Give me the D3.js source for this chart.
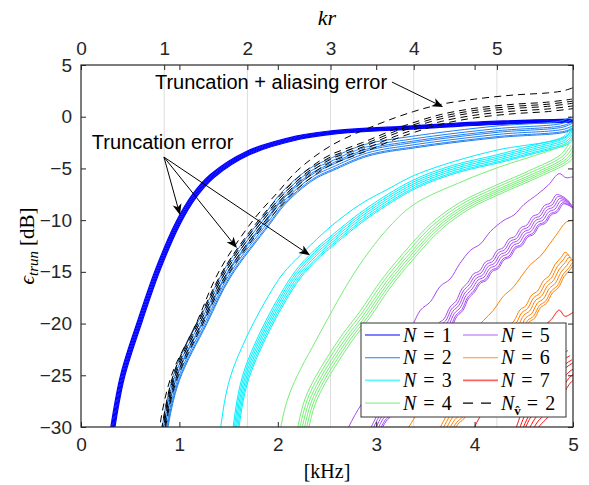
<!DOCTYPE html>
<html><head><meta charset="utf-8">
<script src="https://cdn.jsdelivr.net/npm/d3@7"></script>
<style>body{margin:0;background:#fff} svg{display:block}</style>
</head><body><svg id="c" width="589" height="485"></svg>
<script>
// ---------------- data (frequency in kHz, error in dB) ----------------
const kHzTicks = [0, 1, 2, 3, 4, 5];
const krTicks = [0, 1, 2, 3, 4, 5];
const dbTicks = [-30, -25, -20, -15, -10, -5, 0, 5];
const krPerKHz = 1.183;

const n1Center = [[0.28,-33],[0.32,-30],[0.42,-25],[0.6,-19.6],[0.78,-14.7],[0.98,-10.3],[1.15,-7.6],[1.33,-5.7],[1.69,-3.5],[2.2,-2.0],[2.54,-1.5],[3.38,-1.0],[4.24,-0.55],[5,-0.35]];
const n1Spread = [[-0.015,0.12],[-0.008,0.06],[0,0],[0.008,-0.06],[0.015,-0.12],[0.022,-0.18]];

const n2Center = [[0.82,-33],[0.855,-30],[0.98,-25],[1.26,-19.5],[1.5,-15],[1.89,-10],[2.05,-8.0],[2.23,-6.4],[2.38,-5.4],[2.54,-4.7],[2.9,-3.3],[3.38,-2.5],[4.24,-1.5],[4.9,-1.0],[5,-0.6]];
const n2Spread = [[-0.02,0.6],[-0.01,0.35],[0,0.15],[0,0],[0.01,-0.2],[0.015,-0.4],[0.02,-0.5]];

const n3Center = [[1.53,-33],[1.57,-30],[1.62,-27],[1.68,-24.8],[1.78,-22.4],[1.9,-20],[2.05,-17.4],[2.2,-15.2],[2.38,-13.3],[2.54,-12.0],[2.9,-9.3],[3.38,-6.5],[3.8,-5.0],[4.24,-4.0],[4.6,-3.1],[4.91,-2.3],[4.96,-1.9],[5,-1.2]];
const n3Outlier = [[1.38,-33],[1.42,-30],[1.47,-27],[1.53,-24.8],[1.63,-22.4],[1.75,-20],[1.9,-17.4],[2.05,-15.2],[2.25,-13.2],[2.54,-10.6],[2.85,-8.4],[3.12,-7.0],[3.38,-5.7],[3.8,-4.3],[4.24,-3.2],[4.91,-2.0],[5,-1.2]];
const n3Spread = [[-0.02,0.3],[-0.01,0.15],[0,0],[0.01,-0.15],[0.02,-0.3],[0.03,-0.4]];

const n4Center = [[2.2,-33],[2.25,-30],[2.32,-27.5],[2.42,-25.5],[2.54,-23.6],[2.7,-21.3],[2.87,-19.2],[3.1,-16.0],[3.38,-12.8],[3.6,-10.6],[3.89,-8.6],[4.24,-7.0],[4.6,-5.5],[4.91,-4.0],[5,-2.9]];
const n4Outlier = [[1.98,-33],[2.03,-30],[2.1,-27.3],[2.2,-25],[2.35,-22.3],[2.51,-19.5],[2.7,-16.3],[2.87,-13.8],[3.1,-11],[3.38,-8.5],[3.89,-6.2],[4.24,-4.9],[4.91,-2.7],[5,-2.0]];
const n4Spread = [[-0.04,0.3],[-0.02,0.15],[0,0],[0.02,-0.1],[0.04,-0.2],[0.06,-0.3]];

const n5Center = [[2.95,-31],[3.0,-30],[3.06,-28.95],[3.12,-28.35],[3.18,-27.15],[3.24,-26.55],[3.3,-25.35],[3.36,-24.75],[3.42,-23.55],[3.48,-23.05],[3.54,-21.95],[3.6,-21.5],[3.66,-20.4],[3.72,-19.95],[3.78,-18.8],[3.84,-18.25],[3.9,-17.05],[3.96,-16.45],[4.02,-15.59],[4.08,-15.32],[4.14,-14.45],[4.2,-14.19],[4.26,-13.33],[4.32,-13.07],[4.38,-12.22],[4.44,-11.98],[4.5,-11.13],[4.56,-10.88],[4.62,-10.03],[4.68,-9.8],[4.74,-8.98],[4.8,-8.75],[4.86,-7.93],[4.9,-8.0],[4.94,-8.2],[5,-8.7]];
const n5Outlier = [[2.65,-31.5],[2.72,-30],[2.85,-27.8],[2.95,-26.6],[3.05,-24.8],[3.15,-23.6],[3.25,-21.7],[3.35,-20.5],[3.45,-18.7],[3.55,-17.9],[3.65,-16.4],[3.75,-15.7],[3.85,-14.2],[3.96,-12.9],[4.06,-12.3],[4.16,-11.1],[4.3,-10],[4.4,-9.5],[4.5,-8.5],[4.64,-7.5],[4.75,-6.6],[4.86,-5.5],[4.93,-5.9],[5,-5.8]];
const n5Spread = [[-0.03,0.4],[-0.015,0.2],[0,0],[0.015,-0.2],[0.03,-0.4],[0.04,-0.5]];

const n6Center = [[3.62,-32],[3.72,-30],[3.78,-29.03],[3.84,-28.51],[3.9,-27.38],[3.96,-26.85],[4.02,-25.75],[4.08,-25.2],[4.14,-24.05],[4.2,-23.55],[4.26,-22.45],[4.32,-21.9],[4.38,-20.75],[4.44,-20.25],[4.5,-19.19],[4.56,-18.78],[4.62,-17.75],[4.68,-17.35],[4.74,-16.35],[4.8,-15.85],[4.86,-14.75],[4.92,-14.1],[4.96,-13.6],[5,-13.9]];
const n6Outlier = [[3.25,-31],[3.33,-30],[3.43,-28.52],[3.53,-27.42],[3.63,-25.78],[3.73,-24.72],[3.83,-23.08],[3.93,-22.02],[4.03,-20.38],[4.09,-19.7],[4.19,-18.72],[4.29,-17.38],[4.39,-16.52],[4.47,-15.5],[4.57,-14.28],[4.67,-13.47],[4.74,-12.6],[4.84,-11.3],[4.93,-10.2],[5,-10]];
const n6Spread = [[-0.04,0.5],[-0.02,0.25],[0,0],[0.02,-0.25],[0.04,-0.5],[0.05,-0.7]];

const n7Center = [[4.45,-32],[4.52,-30],[4.6,-28.6],[4.68,-27.8],[4.75,-26.8],[4.82,-25.9],[4.9,-24.6],[4.95,-24.1],[5,-23.8]];
const n7Outlier = [[3.95,-32],[4.0,-30],[4.1,-28.4],[4.2,-27.3],[4.3,-25.6],[4.4,-24.5],[4.5,-22.9],[4.6,-21.8],[4.7,-20.3],[4.78,-19.6],[4.86,-18.7],[4.92,-19.3],[5,-18.9]];
const n7Spread = [[-0.05,1.2],[-0.03,0.7],[-0.01,0.3],[0,0],[0.02,-0.5],[0.04,-0.9],[0.06,-1.3]];

const dashCenter = [[0.8,-33],[0.84,-30],[0.96,-25],[1.23,-19.5],[1.47,-15],[1.85,-10],[2.2,-6.4],[2.4,-4.9],[2.54,-4.1],[2.7,-3.5],[2.87,-2.9],[3.0,-2.4],[3.2,-1.6],[3.38,-1.0],[3.66,-0.2],[4.0,0.4],[4.4,0.8],[4.74,1.0],[5,1.3]];
const dashOutlier = [[0.78,-33],[0.8,-30],[0.92,-25],[1.17,-20],[1.4,-15],[1.75,-10],[2.0,-7.3],[2.2,-5.2],[2.54,-2.8],[3.0,-0.8],[3.38,0.5],[3.66,1.2],[4.0,1.7],[4.4,2.1],[4.74,2.3],[4.9,2.5],[5,2.8]];
const dashSpread = [[-0.01,0.4],[-0.005,0.2],[0,0],[0.005,-0.25],[0.01,-0.5]];

const seriesNames = ["1","2","3","4","5","6","7"];
const seriesColors = ["#0000ff","#2080f0","#00f0ff","#78ee78","#a64cf2","#ff8000","#ff1010"];
const legendColors = ["#0000ff","#2a7fe0","#5ff5ff","#8ef58e","#b060f5","#ff9030","#ff6060"];

// annotations in data coordinates [kHz, dB]
const annoTrunc = {text:"Truncation error", at:[0.11,-3.1], from:[0.843,-3.9], tips:[[1.006,-9.5],[1.585,-12.7],[2.327,-13.4]]};
const annoAlias = {text:"Truncation + aliasing error", at:[0.752,2.7], from:[3.16,3.35], tips:[[3.68,0.94]]};

// ---------------- drawing ----------------
const svg = d3.select("#c");
const L = 81, R = 573, T = 65, B = 427;
const x = d3.scaleLinear([0,5],[L,R]);
const xkr = d3.scaleLinear([0,5*krPerKHz],[L,R]);
const y = d3.scaleLinear([-30,5],[B,T]);
const axisColor = "#262626";
const sans = "'Liberation Sans', Arial, sans-serif";
const serif = "'Liberation Serif', 'Times New Roman', serif";

svg.append("rect").attr("width",589).attr("height",485).attr("fill","#fff");
svg.append("defs").append("clipPath").attr("id","clip")
  .append("rect").attr("x",L).attr("y",T).attr("width",R-L).attr("height",B-T);

// grid (kr)
svg.append("g").selectAll("line").data(krTicks.filter(d=>d>0)).join("line")
  .attr("x1",d=>xkr(d)).attr("x2",d=>xkr(d)).attr("y1",T).attr("y2",B)
  .attr("stroke","#dcdcdc").attr("stroke-width",1);

const line = d3.line().x(d=>x(d[0])).y(d=>y(d[1])).curve(d3.curveCatmullRom.alpha(0.5));
const plot = svg.append("g").attr("clip-path","url(#clip)");
function family(center, spread, outlier, color, dash, w){
  const members = spread.map(([df,db]) => center.map(([f,v]) => [f+df, v+db]));
  if (outlier) members.unshift(outlier);
  plot.append("g").selectAll("path").data(members).join("path")
    .attr("d", line).attr("fill","none").attr("stroke",color)
    .attr("stroke-width", w||1).attr("stroke-dasharray", dash||null);
}
family(n1Center, n1Spread, null, seriesColors[0], null, 1.2);
family(n2Center, n2Spread, null, seriesColors[1]);
family(n3Center, n3Spread, n3Outlier, seriesColors[2]);
family(n4Center, n4Spread, n4Outlier, seriesColors[3]);
family(n5Center, n5Spread, n5Outlier, seriesColors[4]);
family(n6Center, n6Spread, n6Outlier, seriesColors[5]);
family(n7Center, n7Spread, n7Outlier, seriesColors[6]);
family(dashCenter, dashSpread, dashOutlier, "#000", "7,5");

// axes
function styleAxis(g){
  g.select(".domain").remove();
  g.selectAll(".tick line").attr("stroke",axisColor);
  g.selectAll("text").attr("fill",axisColor).style("font-family",sans).style("font-size","19px");
}
svg.append("g").attr("transform",`translate(0,${B})`)
  .call(d3.axisBottom(x).tickValues(kHzTicks).tickSizeInner(-5).tickSizeOuter(0).tickPadding(11).tickFormat(d3.format("d")))
  .call(styleAxis);
svg.append("g").attr("transform",`translate(0,${T})`)
  .call(d3.axisTop(x).tickValues(kHzTicks).tickSizeInner(-5).tickSizeOuter(0).tickFormat(""))
  .call(styleAxis);
svg.append("g").attr("transform",`translate(0,${T})`)
  .call(d3.axisTop(xkr).tickValues(krTicks).tickSizeInner(-5).tickSizeOuter(0).tickPadding(10).tickFormat(d3.format("d")))
  .call(styleAxis);
svg.append("g").attr("transform",`translate(${L},0)`)
  .call(d3.axisLeft(y).tickValues(dbTicks).tickSizeInner(-5).tickSizeOuter(0).tickPadding(9).tickFormat(d3.format("d")))
  .call(styleAxis);
svg.append("g").attr("transform",`translate(${R},0)`)
  .call(d3.axisRight(y).tickValues(dbTicks).tickSizeInner(-5).tickSizeOuter(0).tickFormat(""))
  .call(styleAxis);
svg.append("rect").attr("x",L).attr("y",T).attr("width",R-L).attr("height",B-T)
  .attr("fill","none").attr("stroke",axisColor).attr("stroke-width",1.2);

// axis labels
svg.append("text").attr("x",(L+R)/2).attr("y",25).attr("text-anchor","middle")
  .style("font-family",serif).style("font-size","22px").style("font-style","italic").text("kr");
svg.append("text").attr("x",(L+R)/2).attr("y",478).attr("text-anchor","middle")
  .style("font-family",serif).style("font-size","20px").text("[kHz]");
const yl = svg.append("text").attr("transform",`translate(34,${(T+B)/2}) rotate(-90)`).attr("text-anchor","middle")
  .style("font-family",serif).style("font-size","21px");
yl.append("tspan").style("font-style","italic").text("\u03F5");
yl.append("tspan").style("font-style","italic").style("font-size","15px").attr("dy",4).text("trun");
yl.append("tspan").attr("dy",-4).attr("dx",5).text("[dB]");

// annotations
function arrow(g, p0, p1){
  const [x0,y0] = p0, [x1,y1] = p1;
  const a = Math.atan2(y1-y0, x1-x0), len = 11, hw = 4.5, notch = 3;
  const ux = Math.cos(a), uy = Math.sin(a), nx = -uy, ny = ux;
  const bx = x1 - ux*len, by = y1 - uy*len;
  g.append("line").attr("x1",x0).attr("y1",y0).attr("x2",bx+ux*notch).attr("y2",by+uy*notch)
    .attr("stroke","#000").attr("stroke-width",1);
  g.append("path").attr("d",`M${x1},${y1}L${bx+nx*hw},${by+ny*hw}L${bx+ux*notch},${by+uy*notch}L${bx-nx*hw},${by-ny*hw}Z`)
    .attr("fill","#000");
}
const ag = svg.append("g");
[annoTrunc, annoAlias].forEach(an => {
  ag.append("text").attr("x",x(an.at[0])).attr("y",y(an.at[1]))
    .style("font-family",sans).style("font-size","20px").attr("fill","#000").text(an.text);
  an.tips.forEach(t => arrow(ag, [x(an.from[0]),y(an.from[1])], [x(t[0]),y(t[1])]));
});

// legend
const lg = svg.append("g");
lg.append("rect").attr("x",361).attr("y",323).attr("width",205).attr("height",94)
  .attr("fill","#fff").attr("stroke","#333").attr("stroke-width",1);
const legendItems = seriesNames.map((n,i)=>({name:n, color:legendColors[i], dash:null}))
  .concat([{name:"2", color:"#000", dash:"10,8", sub:true}]);
legendItems.forEach((it,i)=>{
  const col = Math.floor(i/4), row = i%4;
  const lx = 365 + col*98, ly = 335 + row*22.7;
  lg.append("line").attr("x1",lx).attr("x2",lx+35).attr("y1",ly).attr("y2",ly)
    .attr("stroke",it.color).attr("stroke-width",(i===2||i===6)?1.8:1.1).attr("stroke-dasharray",it.dash);
  const t = lg.append("text").attr("x",lx+38).attr("y",ly+6.5)
    .style("font-family",serif).style("font-size","20px");
  t.append("tspan").style("font-style","italic").text("N");
  if (it.sub){
    t.append("tspan").attr("dy",5).style("font-size","13px").style("font-weight","bold").text("v\u0302");
    t.append("tspan").attr("dy",-5).attr("dx",6).text("=");
  } else {
    t.append("tspan").attr("dx",7).text("=");
  }
  t.append("tspan").attr("dx",7).text(it.name);
});
</script></body></html>
